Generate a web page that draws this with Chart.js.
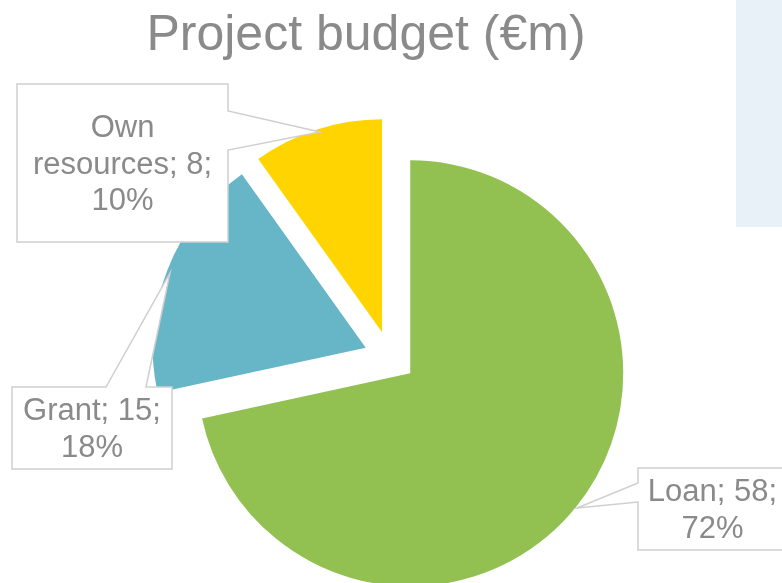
<!DOCTYPE html>
<html>
<head>
<meta charset="utf-8">
<title>Project budget</title>
<script src="https://cdn.jsdelivr.net/npm/chart.js@4/dist/chart.umd.min.js"></script>
<style>
  html, body { margin: 0; padding: 0; background: #ffffff; }
  #wrap { position: relative; width: 782px; height: 583px; overflow: hidden; }
</style>
</head>
<body>
<div id="wrap"><canvas id="budgetChart" width="782" height="583"></canvas></div>
<script>
  // Data
  const chartTitle = "Project budget (€m)";
  const sources = ["Loan", "Grant", "Own resources"];
  const amounts = [58, 15, 8];
  const shares = [72, 18, 10];

  const sliceColors = ["#92C051", "#67B6C8", "#FFD400"];
  const textColor = "#8A8A8A";
  const fontFamily = "'Liberation Sans', Arial, Helvetica, sans-serif";

  const PIE_RADIUS = 213;
  const EXPLODE = 104; // chart.js moves each slice by offset / 4

  // label callouts: box + wedge pointer
  const callouts = [
    { x0: 638, y0: 468, x1: 790, y1: 550, side: "left", p0: 483, p1: 502, tip: [577, 508] },
    { x0: 12, y0: 387, x1: 172, y1: 469, side: "top", p0: 106, p1: 146, tip: [170, 273] },
    { x0: 17, y0: 84, x1: 228, y1: 242, side: "right", p0: 111, p1: 150, tip: [320, 132] },
  ];

  function wrapWords(ctx, text, maxWidth) {
    const words = text.split(" ");
    const lines = [];
    let line = "";
    words.forEach((w) => {
      const test = line ? line + " " + w : w;
      if (line && ctx.measureText(test).width > maxWidth) {
        lines.push(line);
        line = w;
      } else {
        line = test;
      }
    });
    if (line) lines.push(line);
    return lines;
  }

  function calloutPath(ctx, c) {
    ctx.beginPath();
    ctx.moveTo(c.x0, c.y0);
    if (c.side === "top") {
      ctx.lineTo(c.p0, c.y0);
      ctx.lineTo(c.tip[0], c.tip[1]);
      ctx.lineTo(c.p1, c.y0);
    }
    ctx.lineTo(c.x1, c.y0);
    if (c.side === "right") {
      ctx.lineTo(c.x1, c.p0);
      ctx.lineTo(c.tip[0], c.tip[1]);
      ctx.lineTo(c.x1, c.p1);
    }
    ctx.lineTo(c.x1, c.y1);
    ctx.lineTo(c.x0, c.y1);
    if (c.side === "left") {
      ctx.lineTo(c.x0, c.p1);
      ctx.lineTo(c.tip[0], c.tip[1]);
      ctx.lineTo(c.x0, c.p0);
    }
    ctx.closePath();
  }

  const budgetDecor = {
    id: "budgetDecor",
    beforeDraw(chart) {
      const ctx = chart.ctx;
      ctx.save();
      ctx.fillStyle = "#E8F0F8";
      ctx.fillRect(736, 0, 46, 227);
      ctx.restore();
    },
    beforeDatasetsDraw(chart) {
      // keep every exploded slice at the same radius and with radial edges
      chart.getDatasetMeta(0).data.forEach((arc) => {
        if (arc._baseStart === undefined) {
          arc._baseStart = arc.startAngle;
          arc._baseEnd = arc.endAngle;
        }
        const fix = 1 - Math.sin(Math.min(Math.PI, arc.circumference));
        const radiusOffset = (EXPLODE / 4) * fix;
        const angleOffset = radiusOffset / (2 * Math.PI * PIE_RADIUS);
        arc.outerRadius = PIE_RADIUS - radiusOffset;
        arc.startAngle = arc._baseStart - angleOffset;
        arc.endAngle = arc._baseEnd + angleOffset;
      });
    },
    afterDatasetsDraw(chart) {
      const ctx = chart.ctx;
      ctx.save();

      // title
      ctx.fillStyle = textColor;
      ctx.font = "50px " + fontFamily;
      ctx.textAlign = "center";
      ctx.textBaseline = "alphabetic";
      ctx.fillText(chartTitle, 366, 50);

      // data labels
      ctx.font = "31px " + fontFamily;
      ctx.textBaseline = "middle";
      sources.forEach((name, i) => {
        const c = callouts[i];
        calloutPath(ctx, c);
        ctx.fillStyle = "#ffffff";
        ctx.fill();
        ctx.lineWidth = 1.5;
        ctx.strokeStyle = "#CFCFCF";
        ctx.stroke();

        const text = `${name}; ${amounts[i]}; ${shares[i]}%`;
        const lines = wrapWords(ctx, text, c.x1 - c.x0 - 12);
        const lineH = 36.5;
        const cx = (c.x0 + Math.min(c.x1, 787)) / 2;
        const cy = (c.y0 + c.y1) / 2 + 2;
        ctx.fillStyle = textColor;
        lines.forEach((ln, k) => {
          ctx.fillText(ln, cx, cy + (k - (lines.length - 1) / 2) * lineH);
        });
      });
      ctx.restore();
    },
  };

  const ctx = document.getElementById("budgetChart").getContext("2d");
  new Chart(ctx, {
    type: "pie",
    data: {
      labels: sources,
      datasets: [
        {
          data: amounts,
          backgroundColor: sliceColors,
          borderWidth: 0,
          offset: EXPLODE,
          clip: false,
        },
      ],
    },
    options: {
      responsive: false,
      animation: false,
      events: [],
      radius: PIE_RADIUS,
      layout: { padding: { left: 0, right: 2, top: 131, bottom: 0 } },
      plugins: {
        legend: { display: false },
        tooltip: { enabled: false },
        title: { display: false },
      },
    },
    plugins: [budgetDecor],
  });
</script>
</body>
</html>
